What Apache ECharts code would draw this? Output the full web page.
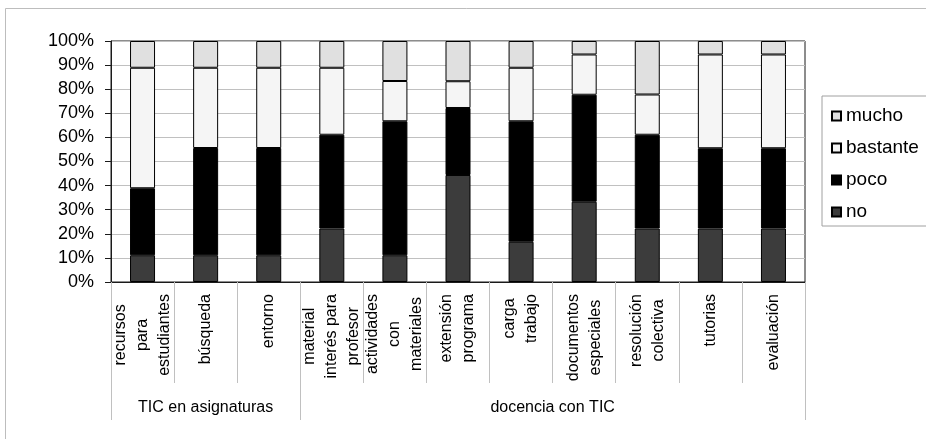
<!DOCTYPE html>
<html>
<head>
<meta charset="utf-8">
<script src="https://cdn.jsdelivr.net/npm/echarts@6/dist/echarts.min.js"></script>
<style>
  html, body { margin: 0; padding: 0; background: #fff; }
  #chart { width: 926px; height: 439px; }
</style>
</head>
<body>
<div id="chart"></div>
<script>
// Item labels (line breaks as drawn under each bar)
const categories = [
  'recursos\npara\nestudiantes',
  'búsqueda',
  'entorno',
  'material\ninterés para\nprofesor',
  'actividades\ncon\nmateriales',
  'extensión\nprograma',
  'carga\ntrabajo',
  'documentos\nespeciales',
  'resolución\ncolectiva',
  'tutorias',
  'evaluación'
];

// Groups of items: label and number of items in each group
const groupNames = ['TIC en asignaturas', 'docencia con TIC'];
const groupSizes = [3, 8];

// Answer shares (%) per item, bottom to top of each bar
const noValues       = [11.1, 11.1, 11.1, 22.2, 11.1, 44.4, 16.7, 33.3, 22.2, 22.2, 22.2];
const pocoValues     = [27.8, 44.5, 44.5, 38.9, 55.6, 27.8, 50.0, 44.4, 38.9, 33.3, 33.3];
const bastanteValues = [50.0, 33.3, 33.3, 27.8, 16.7, 11.1, 22.2, 16.7, 16.7, 38.9, 38.9];
const muchoValues    = [11.1, 11.1, 11.1, 11.1, 16.6, 16.7, 11.1,  5.6, 22.2,  5.6,  5.6];

const yTicks = [0, 10, 20, 30, 40, 50, 60, 70, 80, 90, 100];

// Group boundaries and label positions on a 0..n scale matching the category slots
const groupBounds = [0];
const groupCenters = [];
groupSizes.forEach(function (s) {
  const start = groupBounds[groupBounds.length - 1];
  groupCenters.push(start + s / 2);
  groupBounds.push(start + s);
});

const FONT = 'Liberation Sans, Arial, sans-serif';

const chart = echarts.init(document.getElementById('chart'), null, { renderer: 'canvas' });

function series(name, data, color) {
  return {
    name: name,
    type: 'bar',
    stack: 'total',
    data: data,
    barWidth: 25,
    xAxisIndex: 0,
    yAxisIndex: 0,
    itemStyle: { color: color, borderColor: '#000', borderWidth: 1 },
    emphasis: { disabled: true }
  };
}

chart.setOption({
  animation: false,
  backgroundColor: '#fff',
  textStyle: { fontFamily: FONT },
  graphic: [{
    type: 'rect',
    silent: true,
    shape: { x: 5.5, y: 8.5, width: 1000, height: 1000 },
    style: { fill: 'none', stroke: '#bdbdbd', lineWidth: 1 }
  }],
  grid: {
    left: 111, right: 121, top: 41, bottom: 157,
    show: true, borderColor: '#1a1a1a', borderWidth: 1, backgroundColor: 'transparent'
  },
  legend: {
    orient: 'vertical',
    left: 822, top: 96,
    data: ['mucho', 'bastante', 'poco', 'no'],
    icon: 'rect',
    itemWidth: 9, itemHeight: 9,
    itemGap: 12,
    padding: [10, 14, 4, 9],
    borderColor: '#a0a0a0', borderWidth: 1,
    selectedMode: false,
    textStyle: { fontSize: 19, color: '#000', fontFamily: FONT, lineHeight: 20 }
  },
  xAxis: [{
    type: 'category',
    data: categories,
    position: 'bottom',
    axisLine: { show: true, lineStyle: { color: '#1a1a1a', width: 1 } },
    axisTick: { show: true, interval: 0, length: 101, lineStyle: { color: '#c0c0c0' } },
    axisLabel: {
      interval: 0,
      rotate: 90,
      margin: 12,
      color: '#000',
      fontSize: 16,
      fontFamily: FONT,
      formatter: function (v) {
        return v.split('\n').map(function (l) { return '{c|' + l + '}'; }).join('\n');
      },
      rich: { c: { align: 'center', fontSize: 16, lineHeight: 22, color: '#000', fontFamily: FONT } }
    },
    splitLine: { show: false }
  }, {
    type: 'value',
    position: 'bottom',
    min: 0,
    max: categories.length,
    axisLine: { show: false },
    axisTick: { show: true, customValues: groupBounds, length: 138, lineStyle: { color: '#c0c0c0' } },
    axisLabel: {
      show: true,
      customValues: groupCenters,
      margin: 118,
      color: '#000',
      fontSize: 16,
      fontFamily: FONT,
      formatter: function (v) {
        const i = groupCenters.indexOf(v);
        return i >= 0 ? groupNames[i] : '';
      }
    },
    splitLine: { show: false }
  }],
  yAxis: {
    type: 'value',
    min: 0, max: 100, interval: 10,
    axisLine: { show: true, lineStyle: { color: '#1a1a1a' } },
    axisTick: { show: true, length: 6, lineStyle: { color: '#1a1a1a' } },
    axisLabel: {
      margin: 17,
      color: '#000',
      fontSize: 18,
      fontFamily: FONT,
      customValues: yTicks,
      formatter: '{value}%'
    },
    splitLine: { show: true, lineStyle: { color: '#c0c0c0', width: 1 } }
  },
  series: [
    series('no', noValues, '#3c3c3c'),
    series('poco', pocoValues, '#000000'),
    series('bastante', bastanteValues, '#f5f5f5'),
    series('mucho', muchoValues, '#e0e0e0')
  ]
});
</script>
</body>
</html>
